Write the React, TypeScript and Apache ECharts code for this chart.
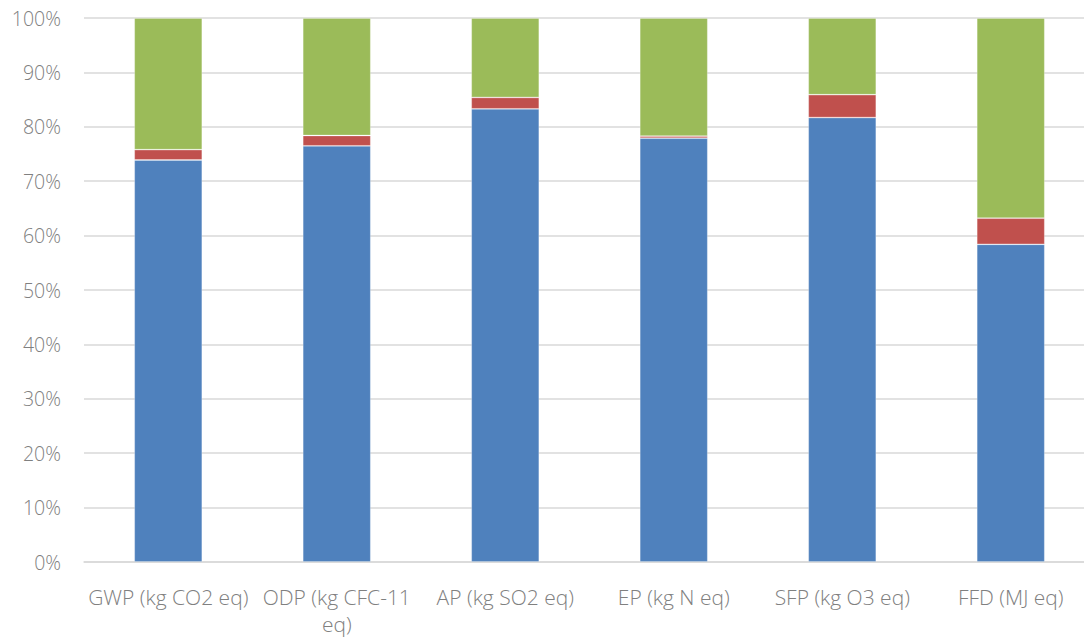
import React, { useEffect, useRef } from "react";
import * as echarts from "echarts";

const categories = [
  "GWP (kg CO2 eq)",
  "ODP (kg CFC-11\neq)",
  "AP (kg SO2 eq)",
  "EP (kg N eq)",
  "SFP (kg O3 eq)",
  "FFD (MJ eq)",
];
const seriesA = [73.9, 76.5, 83.3, 77.9, 81.7, 58.4];
const seriesB = [1.9, 1.9, 2.1, 0.4, 4.2, 4.8];
const seriesC = seriesA.map((a, i) => +(100 - a - seriesB[i]).toFixed(1));
const yTicks = [0, 10, 20, 30, 40, 50, 60, 70, 80, 90, 100];

export default function App() {
  const ref = useRef<HTMLDivElement>(null);
  useEffect(() => {
    const chart = echarts.init(ref.current!, undefined, { renderer: "svg" });
    const font = "'Open Sans', 'Noto Sans', sans-serif";
    const mk = (name: string, data: number[], color: string) => ({
      name,
      type: "bar",
      stack: "total",
      data,
      barWidth: 68,
      itemStyle: { color, borderColor: "rgba(255,255,255,0.35)", borderWidth: 0.8 },
    });
    chart.setOption({
      animation: false,
      grid: { left: 84, top: 18, bottom: 75, right: 5 },
      xAxis: {
        type: "category",
        data: categories,
        axisLine: { show: true, lineStyle: { color: "#d9d9d9", width: 1.5 } },
        axisTick: { show: false },
        axisLabel: {
          interval: 0,
          color: "#808080",
          fontFamily: font,
          fontWeight: 300,
          fontSize: 21,
          lineHeight: 27,
          margin: 21,
        },
      },
      yAxis: {
        type: "value",
        min: 0,
        max: 100,
        interval: 10,
        axisLine: { show: false },
        axisTick: { show: false },
        splitLine: { lineStyle: { color: "#d9d9d9", width: 1.5 } },
        axisLabel: {
          color: "#808080",
          fontFamily: font,
          fontWeight: 300,
          fontSize: 19.5,
          margin: 23,
          formatter: (v: number) => (yTicks.includes(v) ? v + "%" : ""),
        },
      },
      series: [
        mk("A", seriesA, "#4f81bd"),
        mk("B", seriesB, "#c0504d"),
        mk("C", seriesC, "#9bbb59"),
      ],
    });
    return () => chart.dispose();
  }, []);
  return (
    <div
      style={{ position: "fixed", left: 0, top: 0, width: 1084, height: 637, background: "#fff", overflow: "hidden" }}
    >
      <div ref={ref} style={{ width: 1100, height: 637 }} />
    </div>
  );
}
